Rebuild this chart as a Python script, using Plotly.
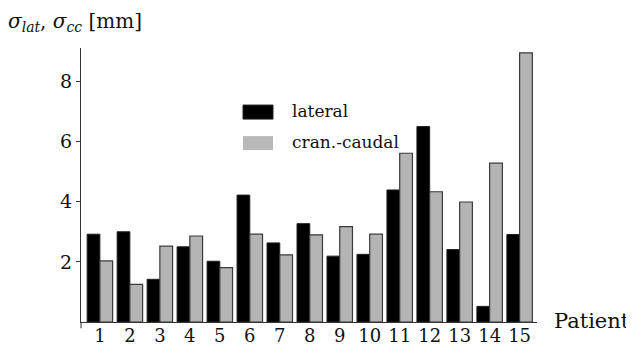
import plotly.graph_objects as go

patients = [str(i) for i in range(1, 16)]
lateral = [2.92, 3.0, 1.42, 2.5, 2.02, 4.22, 2.63, 3.27, 2.19, 2.25, 4.39, 6.5, 2.41, 0.52, 2.91]
cran_caudal = [2.03, 1.25, 2.52, 2.86, 1.81, 2.92, 2.23, 2.9, 3.17, 2.92, 5.61, 4.33, 3.99, 5.28, 8.95]
yticks = [2, 4, 6, 8]

W, H = 634, 348
OFF = 8  # page body margin offset of the figure in the photographed window
# plot box in window pixels
BX0, BX1, BY0, BY1 = 81, 537, 48, 321.7
L = BX0 - OFF
R = W - (BX1 - OFF)
T = BY0 - OFF
B = H - (BY1 - OFF)

FONT = "DejaVu Serif"
TXT = "#111111"
fig = go.Figure()
x = list(range(1, 16))
fig.add_trace(go.Bar(x=x, y=lateral, name="lateral",
                     marker=dict(color="#000000", line=dict(color="#222222", width=1))))
fig.add_trace(go.Bar(x=x, y=cran_caudal, name="cran.-caudal",
                     marker=dict(color="#b4b4b4", line=dict(color="#3a3a3a", width=1.2))))

fig.update_layout(
    width=W, height=H,
    margin=dict(l=L, r=R, t=T, b=B, pad=0),
    paper_bgcolor="white", plot_bgcolor="white",
    barmode="group", bargap=0.15, bargroupgap=0,
    showlegend=False,
)
fig.update_xaxes(range=[0.37, 15.58], tickvals=x, ticktext=patients, automargin=False,
                 showline=True, linecolor="#333333", linewidth=1,
                 showgrid=False, zeroline=False, ticks="", ticklabelstandoff=-3,
                 tickfont=dict(family=FONT, size=18, color=TXT))
fig.update_yaxes(range=[0, 9.11], tickvals=yticks, ticktext=[str(v) for v in yticks],
                 automargin=False,
                 showline=True, linecolor="#333333", linewidth=1,
                 showgrid=False, zeroline=False, ticks="outside", ticklen=4,
                 tickcolor="#333333", tickfont=dict(family=FONT, size=19, color=TXT))

PW = BX1 - BX0
PH = BY1 - BY0

def px(xp):
    return (xp - BX0) / PW

def py(yp):
    return (BY1 - yp) / PH

# y axis line continues slightly below the baseline
fig.add_shape(type="line", xref="paper", yref="paper", x0=0, x1=0, y0=py(328), y1=0,
              line=dict(color="#333333", width=1))

# legend swatches and labels
fig.add_shape(type="rect", xref="paper", yref="paper",
              x0=px(243), x1=px(273), y0=py(119), y1=py(105),
              fillcolor="#000000", line=dict(color="#222222", width=1))
fig.add_shape(type="rect", xref="paper", yref="paper",
              x0=px(243), x1=px(273), y0=py(150), y1=py(136),
              fillcolor="#b8b8b8", line=dict(width=0))
fig.add_annotation(text="lateral", xref="paper", yref="paper", x=px(290), y=py(99),
                   xanchor="left", showarrow=False,
                   font=dict(family=FONT, size=17, color=TXT))
fig.add_annotation(text="cran.-caudal", xref="paper", yref="paper", x=px(290), y=py(142),
                   xanchor="left", showarrow=False,
                   font=dict(family=FONT, size=17, color=TXT))

# axis titles
fig.add_annotation(text="<i>σ</i><sub><i>lat</i></sub>, <i>σ</i><sub><i>cc</i></sub> [mm]",
                   xref="paper", yref="paper", x=px(6), y=py(7),
                   xanchor="left", showarrow=False,
                   font=dict(family=FONT, size=20, color=TXT))
fig.add_annotation(text="Patient", xref="paper", yref="paper", x=px(552), y=py(335),
                   xanchor="left", showarrow=False,
                   font=dict(family=FONT, size=21, color=TXT))

fig.write_html("out.html")
